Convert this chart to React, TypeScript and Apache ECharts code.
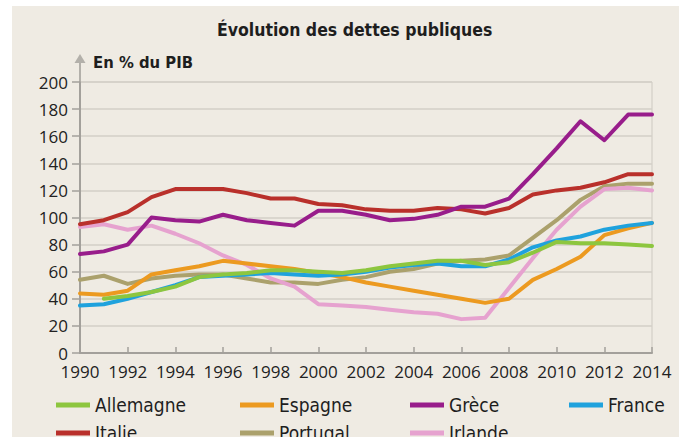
import React, { useEffect, useRef } from "react";
import * as echarts from "echarts";

const years = ["1990","1991","1992","1993","1994","1995","1996","1997","1998","1999","2000","2001","2002","2003","2004","2005","2006","2007","2008","2009","2010","2011","2012","2013","2014"];
const allemagne = [null, 40, 42, 45, 49, 56, 58, 59, 61, 61, 60, 59, 61, 64, 66, 68, 68, 65, 67, 74, 82, 81, 81, 80, 79];
const espagne = [44, 43, 46, 58, 61, 64, 68, 66, 64, 62, 59, 56, 52, 49, 46, 43, 40, 37, 40, 54, 62, 71, 87, 92, 96];
const grece = [73, 75, 80, 100, 98, 97, 102, 98, 96, 94, 105, 105, 102, 98, 99, 102, 108, 108, 114, 132, 151, 171, 157, 176, 176];
const france = [35, 36, 40, 45, 50, 56, 57, 58, 59, 58, 57, 58, 60, 63, 65, 66, 64, 64, 69, 78, 83, 86, 91, 94, 96];
const italie = [95, 98, 104, 115, 121, 121, 121, 118, 114, 114, 110, 109, 106, 105, 105, 107, 106, 103, 107, 117, 120, 122, 126, 132, 132];
const portugal = [54, 57, 51, 55, 57, 58, 58, 55, 52, 52, 51, 54, 56, 60, 62, 66, 68, 69, 72, 85, 98, 113, 123, 125, 125];
const irlande = [93, 95, 91, 94, 88, 81, 72, 65, 55, 49, 36, 35, 34, 32, 30, 29, 25, 26, 48, 70, 91, 108, 121, 122, 120];

const seriesDefs = [
  { name: "Portugal", data: portugal, color: "#aba16c" },
  { name: "Irlande", data: irlande, color: "#e6a2cf" },
  { name: "Espagne", data: espagne, color: "#ec9a20" },
  { name: "France", data: france, color: "#1fa2dd" },
  { name: "Allemagne", data: allemagne, color: "#8dc63f" },
  { name: "Italie", data: italie, color: "#b9302b" },
  { name: "Grèce", data: grece, color: "#981d8b" },
];

const legendPos: [string, number, number][] = [
  ["Allemagne", 56, 395],
  ["Espagne", 240, 395],
  ["Grèce", 410, 395],
  ["France", 569, 395],
  ["Italie", 56, 423],
  ["Portugal", 240, 423],
  ["Irlande", 410, 423],
];

const COND = "'Liberation Sans Narrow', 'DejaVu Sans Condensed', 'Arial Narrow', sans-serif";
const NUM = "'Open Sans', 'DejaVu Sans', sans-serif";

export default function App() {
  const ref = useRef<HTMLDivElement>(null);
  useEffect(() => {
    if (!ref.current) return;
    const chart = echarts.init(ref.current, undefined, { renderer: "svg" });
    chart.setOption({
      animation: false,
      backgroundColor: "#ffffff",
      title: {
        text: "Évolution des dettes publiques",
        left: 217,
        top: 21,
        padding: 0,
        textStyle: { fontFamily: COND, fontWeight: "bold", fontSize: 17.5, color: "#1e1e1e" },
      },
      legend: legendPos.map(([name, left, top]) => ({
        data: [name],
        left,
        top,
        padding: 0,
        icon: "rect",
        itemWidth: 34,
        itemHeight: 5,
        itemGap: 0,
        textStyle: { fontFamily: COND, fontSize: 19, color: "#1e1e1e", lineHeight: 20 },
      })),
      grid: {
        left: 80,
        right: 27,
        top: 82,
        bottom: 84,
        show: true,
        borderColor: "#cdc9c1",
        borderWidth: 1,
        backgroundColor: "transparent",
      },
      xAxis: {
        type: "category",
        data: years,
        boundaryGap: false,
        axisLine: { lineStyle: { color: "#a3a09b", width: 2 } },
        axisTick: { inside: true, length: 6, interval: 1, lineStyle: { color: "#a3a09b", width: 1.5 } },
        axisLabel: { interval: 1, margin: 10, fontFamily: NUM, fontSize: 17, color: "#222" },
        splitLine: { show: false },
      },
      yAxis: {
        type: "value",
        min: 0,
        max: 200,
        interval: 20,
        axisLine: { show: true, lineStyle: { color: "#a3a09b", width: 2 } },
        axisTick: { show: true, inside: false, length: 8, lineStyle: { color: "#a3a09b", width: 1.5 } },
        axisLabel: { margin: 12, fontFamily: NUM, fontSize: 17, color: "#222" },
        splitLine: { lineStyle: { color: "#d3cfc7", width: 1.5 } },
      },
      graphic: [
        { type: "rect", z: -10, shape: { x: 12, y: 6, width: 667, height: 431 }, style: { fill: "#efebe3" } },
        { type: "line", shape: { x1: 80, y1: 82, x2: 80, y2: 60 }, style: { stroke: "#b3b0aa", lineWidth: 2 } },
        { type: "polygon", shape: { points: [[80, 54], [74.5, 63], [85.5, 63]] }, style: { fill: "#b3b0aa" } },
        {
          type: "text",
          x: 93,
          y: 62,
          style: { text: "En % du PIB", fontFamily: COND, fontWeight: "bold", fontSize: 16.5, fill: "#1e1e1e", verticalAlign: "middle" },
        },
      ],
      series: seriesDefs.map((s) => ({
        type: "line",
        name: s.name,
        data: s.data,
        symbol: "none",
        connectNulls: false,
        color: s.color,
        lineStyle: { width: 4, color: s.color, cap: "round", join: "round" },
      })),
    });
    return () => chart.dispose();
  }, []);
  return <div ref={ref} style={{ position: "fixed", left: 0, top: 0, width: 679, height: 437 }} />;
}
